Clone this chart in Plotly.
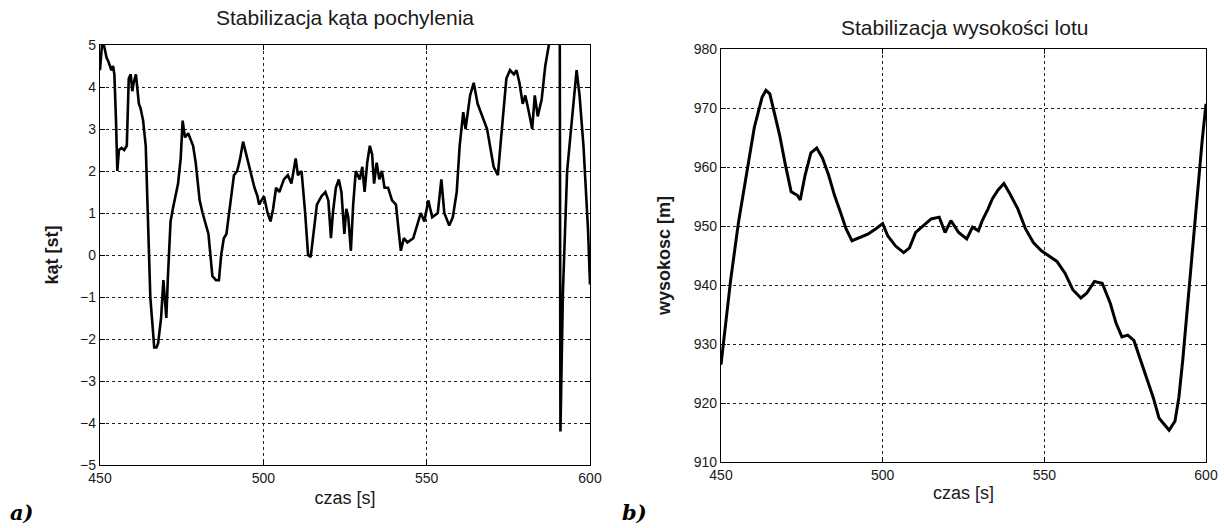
import plotly.graph_objects as go

# ---- left chart: pitch angle ----
t_angle = [450.0, 450.6, 451.2, 452.0, 452.6, 453.5, 454.0, 454.4, 454.9, 455.3, 455.8, 456.6, 457.4, 458.2,
           458.8, 459.4, 459.9, 460.3, 461.0, 461.5, 461.9, 462.4, 463.2, 464.0, 465.4, 466.6, 467.3, 467.8,
           468.7, 469.4, 469.9, 470.3, 470.8, 471.6, 472.3, 473.0, 473.9, 474.7, 475.3, 476.0, 477.0, 478.5,
           479.3, 480.5, 481.4, 483.2, 484.4, 485.5, 486.4, 487.1, 487.9, 488.7, 489.9, 491.0, 492.0, 492.9,
           493.8, 494.7, 496.1, 497.3, 498.2, 498.7, 500.2, 501.3, 502.2, 503.0, 503.9, 504.9, 506.3, 507.5,
           508.6, 509.3, 509.9, 510.6, 511.7, 512.8, 513.7, 514.5, 515.5, 516.4, 517.8, 519.0, 519.9, 520.7,
           521.3, 522.2, 523.1, 523.9, 524.8, 525.4, 526.0, 526.8, 527.5, 528.3, 529.5, 530.3, 531.0, 531.8,
           532.6, 533.3, 533.9, 534.7, 535.5, 536.3, 537.1, 538.2, 539.4, 540.6, 541.4, 542.1, 543.0, 544.1,
           545.9, 547.0, 548.2, 549.3, 550.5, 551.7, 553.4, 554.5, 555.4, 556.9, 558.0, 559.2, 560.1, 561.2,
           561.9, 563.3, 564.4, 565.6, 567.0, 568.5, 570.5, 571.8, 572.8, 574.4, 575.5, 576.7, 577.5, 578.4,
           579.4, 580.2, 581.3, 582.3, 583.1, 584.0, 585.2, 586.3, 587.4, 588.6, 589.8, 590.7, 590.95, 591.7,
           593.0, 594.2, 595.2, 595.9, 596.8, 598.0, 599.4, 600.0]
angle = [4.4, 5.0, 5.0, 4.7, 4.6, 4.4, 4.5, 4.3, 3.2, 2.0, 2.5, 2.55, 2.5, 2.6,
         4.2, 4.3, 3.9, 4.1, 4.3, 3.8, 3.6, 3.5, 3.2, 2.6, -1.0, -2.2, -2.2, -2.1,
         -1.5, -0.6, -1.0, -1.5, -0.5, 0.8, 1.1, 1.4, 1.7, 2.3, 3.2, 2.8, 2.9, 2.6,
         2.2, 1.3, 1.0, 0.5, -0.5, -0.6, -0.6, 0.0, 0.4, 0.5, 1.3, 1.9, 2.0, 2.3,
         2.7, 2.4, 2.0, 1.6, 1.4, 1.2, 1.4, 1.0, 0.8, 1.1, 1.6, 1.5, 1.8, 1.9,
         1.7, 2.0, 2.3, 1.9, 2.0, 1.0, 0.0, -0.05, 0.6, 1.2, 1.4, 1.5, 1.3, 0.4,
         1.0, 1.6, 1.8, 1.5, 0.5, 1.1, 0.9, 0.1, 1.2, 2.0, 1.8, 2.1, 1.5, 2.2,
         2.6, 2.4, 1.7, 2.2, 1.8, 2.0, 1.6, 1.6, 1.3, 1.2, 0.6, 0.1, 0.4, 0.3,
         0.4, 0.7, 1.0, 0.8, 1.3, 0.9, 1.0, 1.8, 1.0, 0.7, 0.9, 1.5, 2.6, 3.4,
         3.0, 3.8, 4.1, 3.6, 3.3, 3.0, 2.1, 1.9, 2.8, 4.2, 4.4, 4.3, 4.4, 4.1,
         3.6, 3.8, 3.4, 3.0, 3.8, 3.3, 3.7, 4.5, 5.0, 6.5, 7.5, 7.5, -4.2, -0.9,
         2.0, 3.0, 3.9, 4.4, 3.8, 2.6, 0.6, -0.7]

# ---- right chart: flight altitude ----
t_alt = [450.0, 451.8, 453.0, 455.4, 457.9, 460.3, 462.7, 463.9, 465.1, 466.3, 468.1, 469.9, 471.7, 473.6,
         474.5, 476.0, 477.8, 479.6, 481.4, 483.3, 485.1, 486.9, 488.7, 490.5, 492.9, 495.4, 497.8, 500.0,
         501.6, 504.0, 506.5, 508.3, 510.2, 512.6, 515.0, 517.5, 519.3, 521.1, 523.5, 526.0, 527.8, 529.6,
         530.8, 532.6, 533.9, 535.7, 537.5, 539.3, 541.8, 544.2, 546.6, 549.1, 551.5, 553.9, 556.4, 558.8,
         561.3, 563.1, 565.5, 567.9, 570.4, 572.2, 574.0, 575.8, 577.7, 579.5, 581.3, 583.7, 585.5, 587.3,
         588.6, 590.4, 591.6, 592.8, 594.0, 595.2, 596.4, 597.6, 598.8, 600.0]
altitude = [926.5, 935.0, 940.9, 950.6, 959.2, 966.7, 971.8, 973.0, 972.4, 969.5, 965.5, 960.4, 955.8, 955.2,
            954.4, 958.6, 962.4, 963.2, 961.5, 958.6, 955.2, 952.4, 949.5, 947.5, 948.1, 948.6, 949.5, 950.4,
            948.3, 946.6, 945.5, 946.3, 948.9, 950.1, 951.2, 951.5, 948.9, 950.9, 948.9, 947.8, 949.8, 949.2,
            950.9, 952.9, 954.6, 956.1, 957.2, 955.5, 952.9, 949.5, 947.2, 945.8, 944.9, 944.0, 942.0, 939.2,
            937.8, 938.6, 940.6, 940.3, 936.9, 933.5, 931.2, 931.5, 930.6, 927.7, 924.9, 920.9, 917.4, 916.3,
            915.4, 916.9, 920.9, 927.2, 934.6, 942.6, 950.6, 958.1, 964.4, 970.7]

x_ticks = [450, 500, 550, 600]
angle_ticks = [-5, -4, -3, -2, -1, 0, 1, 2, 3, 4, 5]
alt_ticks = [910, 920, 930, 940, 950, 960, 970, 980]

W, H = 1224, 528
FONT = "Liberation Sans"
TXT = "#1a1a1a"

fig = go.Figure()
fig.add_trace(go.Scatter(x=t_angle, y=angle, mode="lines", xaxis="x", yaxis="y",
                         line=dict(color="black", width=2.6), showlegend=False))
fig.add_trace(go.Scatter(x=t_alt, y=altitude, mode="lines", xaxis="x2", yaxis="y2",
                         line=dict(color="black", width=3.0), showlegend=False))

common = dict(showline=True, linecolor="black", linewidth=1.3, mirror="ticks",
              ticks="inside", ticklen=5, tickcolor="black",
              showgrid=True, gridcolor="#222222", gridwidth=1, griddash="dot",
              zeroline=False, automargin=False,
              tickfont=dict(family=FONT, size=14, color=TXT))

title_font = dict(family=FONT, size=18, color=TXT)

fig.update_layout(
    width=W, height=H,
    paper_bgcolor="white", plot_bgcolor="white",
    margin=dict(l=0, r=0, t=0, b=0),
    xaxis=dict(domain=[100 / W, 590 / W], range=[450, 600], tickvals=x_ticks, anchor="y",
               title=dict(text="czas [s]", font=title_font, standoff=6),
               **common),
    yaxis=dict(domain=[(H - 465) / H, (H - 45) / H], range=[-5, 5], tickvals=angle_ticks, anchor="x",
               title=dict(text="<b>kąt [st]</b>", font=title_font, standoff=16),
               **common),
    xaxis2=dict(domain=[721 / W, 1206 / W], range=[450, 600], tickvals=x_ticks, anchor="y2",
                title=dict(text="czas [s]", font=title_font, standoff=4),
                **common),
    yaxis2=dict(domain=[(H - 462) / H, (H - 49) / H], range=[910, 980], tickvals=alt_ticks, anchor="x2",
                title=dict(text="<b>wysokosc [m]</b>", font=title_font, standoff=18),
                **common),
    annotations=[
        dict(text="Stabilizacja kąta pochylenia", x=345 / W, y=1 - 18 / H, xref="paper", yref="paper",
             xanchor="center", yanchor="middle", showarrow=False,
             font=dict(family=FONT, size=21, color=TXT)),
        dict(text="Stabilizacja wysokości lotu", x=964 / W, y=1 - 28 / H, xref="paper", yref="paper",
             xanchor="center", yanchor="middle", showarrow=False,
             font=dict(family=FONT, size=21, color=TXT)),
        dict(text="<b><i>a)</i></b>", x=8 / W, y=1 - 512 / H, xref="paper", yref="paper",
             xanchor="left", yanchor="middle", showarrow=False,
             font=dict(family="DejaVu Serif", size=21, color="black")),
        dict(text="<b><i>b)</i></b>", x=620 / W, y=1 - 512 / H, xref="paper", yref="paper",
             xanchor="left", yanchor="middle", showarrow=False,
             font=dict(family="DejaVu Serif", size=21, color="black")),
    ],
)

fig.write_html("out.html", config={"displayModeBar": False},
               post_script="document.body.style.margin='0';document.body.style.overflow='hidden';")
